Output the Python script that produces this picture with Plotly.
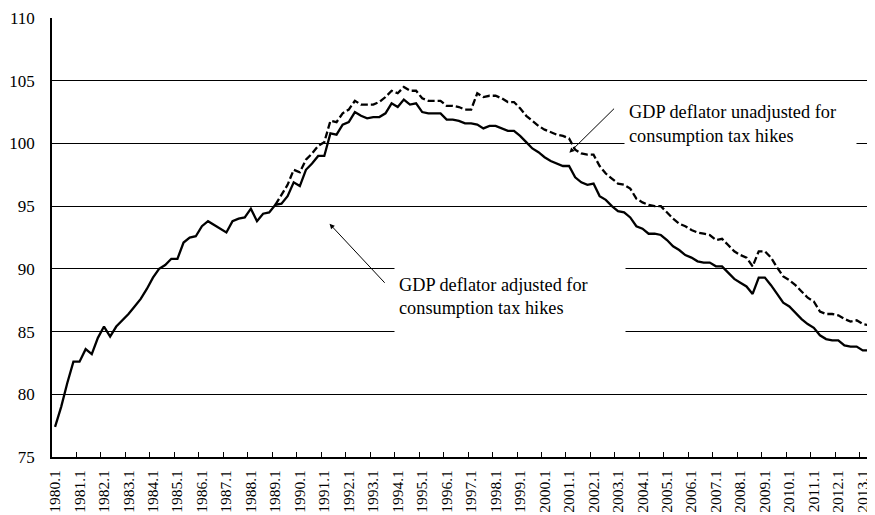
import plotly.graph_objects as go

# quarterly GDP deflator, 1980.1 - 2013.3
adjusted = [
    77.4, 79.0, 80.9, 82.6, 82.6, 83.6, 83.2, 84.5, 85.4, 84.6,
    85.4, 85.9, 86.4, 87.0, 87.6, 88.4, 89.3, 90.0, 90.3, 90.8,
    90.8, 92.1, 92.5, 92.6, 93.4, 93.8, 93.5, 93.2, 92.9, 93.8,
    94.0, 94.1, 94.8, 93.8, 94.4, 94.5, 95.1, 95.2, 95.8, 96.9,
    96.6, 97.9, 98.4, 99.0, 99.0, 100.8, 100.7, 101.5, 101.7, 102.5,
    102.2, 102.0, 102.1, 102.1, 102.4, 103.2, 102.9, 103.5, 103.1, 103.2,
    102.5, 102.4, 102.4, 102.4, 101.9, 101.9, 101.8, 101.6, 101.6, 101.5,
    101.2, 101.4, 101.4, 101.2, 101.0, 101.0, 100.6, 100.1, 99.6, 99.3,
    98.9, 98.6, 98.4, 98.2, 98.2, 97.3, 96.9, 96.7, 96.8, 95.8,
    95.5, 95.0, 94.6, 94.5, 94.1, 93.4, 93.2, 92.8, 92.8, 92.7,
    92.3, 91.8, 91.5, 91.1, 90.9, 90.6, 90.5, 90.5, 90.2, 90.2,
    89.7, 89.2, 88.9, 88.6, 88.0, 89.3, 89.3, 88.7, 88.0, 87.3,
    87.0, 86.5, 86.0, 85.6, 85.3, 84.7, 84.4, 84.3, 84.3, 83.9,
    83.8, 83.8, 83.5, 83.5, 83.4,
]

# unadjusted series, from 1989.1 (identical to adjusted before that)
unadjusted_start = 36
unadjusted = [
    95.1, 95.9, 96.7, 97.9, 97.7, 98.7, 99.2, 99.8, 100.1, 101.8,
    101.7, 102.4, 102.7, 103.4, 103.1, 103.1, 103.1, 103.3, 103.7, 104.2,
    104.0, 104.5, 104.2, 104.2, 103.6, 103.4, 103.4, 103.4, 103.0, 103.0,
    102.9, 102.7, 102.7, 104.0, 103.7, 103.8, 103.8, 103.6, 103.3, 103.3,
    102.8, 102.2, 101.8, 101.4, 101.1, 100.9, 100.7, 100.6, 100.4, 99.5,
    99.2, 99.1, 99.1, 98.2, 97.6, 97.2, 96.8, 96.7, 96.4, 95.6,
    95.3, 95.1, 95.0, 95.0, 94.5, 94.0, 93.6, 93.4, 93.1, 92.9,
    92.8, 92.7, 92.3, 92.4, 91.9, 91.4, 91.1, 90.9, 90.2, 91.4,
    91.4, 90.9, 90.1, 89.4, 89.1, 88.7, 88.2, 87.7, 87.4, 86.6,
    86.4, 86.4, 86.3, 86.0, 85.8, 85.9, 85.6, 85.5, 85.5,
]

years = list(range(1980, 2014))
quarter_labels = [f"{y}.{q}" for y in years for q in range(1, 5)][: len(adjusted)]

FONT = "Liberation Serif, Times New Roman, serif"

x_all = list(range(len(adjusted)))
x_unadj = x_all[unadjusted_start:]

fig = go.Figure()
fig.add_trace(go.Scatter(
    x=x_unadj, y=unadjusted, mode="lines",
    line=dict(color="black", width=2.3, dash="7px,3px"),
    customdata=quarter_labels[unadjusted_start:],
    hovertemplate="%{customdata}: %{y}<extra>unadjusted</extra>",
))
fig.add_trace(go.Scatter(
    x=x_all, y=adjusted, mode="lines",
    line=dict(color="black", width=2.3),
    customdata=quarter_labels,
    hovertemplate="%{customdata}: %{y}<extra>adjusted</extra>",
))

# arrows (tail -> head, in data coords)
arrow_style = dict(showarrow=True, arrowhead=2, arrowsize=1, arrowwidth=1,
                   arrowcolor="black", xref="x", yref="y", axref="x", ayref="y", text="")
fig.add_annotation(x=84.05, y=99.26, ax=91.6, ay=102.89, **arrow_style)
fig.add_annotation(x=44.86, y=93.59, ax=54.1, ay=88.77, **arrow_style)

box_style = dict(showarrow=False, xref="x", yref="y", xanchor="left", yanchor="top",
                 align="left", valign="middle", bgcolor="white", borderpad=4,
                 font=dict(family=FONT, size=18.3, color="black"))
fig.add_annotation(x=92.9, y=103.7, width=223, height=44,
                   text="GDP deflator unadjusted for<br>consumption tax hikes", **box_style)
fig.add_annotation(x=55.4, y=91.1, width=222, height=73,
                   text="GDP deflator adjusted for<br>consumption tax hikes", **box_style)

fig.update_xaxes(
    range=[-0.5, 134], tickmode="array",
    tickvals=x_all[::4], ticktext=quarter_labels[::4],
    tickangle=-90, ticks="", ticklabelstandoff=5,
    minor=dict(tickmode="array", tickvals=[v + 3.5 for v in x_all[::4]],
               ticks="inside", ticklen=5, tickcolor="black", tickwidth=1),
    showgrid=False, showline=True, linecolor="black", linewidth=2,
    tickfont=dict(family=FONT, size=15.5, color="black"),
    zeroline=False, automargin=False,
)
fig.update_yaxes(
    range=[75, 110], dtick=5, ticks="", ticklabelstandoff=12,
    showgrid=True, gridcolor="black", gridwidth=1,
    showline=True, linecolor="black", linewidth=1.5,
    tickfont=dict(family=FONT, size=17, color="black"),
    zeroline=False, automargin=False,
)
# the page adds an 8px body margin, so the figure is sized to sit inside the window
fig.update_layout(
    width=867, height=507,
    margin=dict(l=44, r=0, t=10, b=58),
    plot_bgcolor="white", paper_bgcolor="white",
    showlegend=False,
    font=dict(family=FONT, color="black"),
)

fig.write_html("out.html")
